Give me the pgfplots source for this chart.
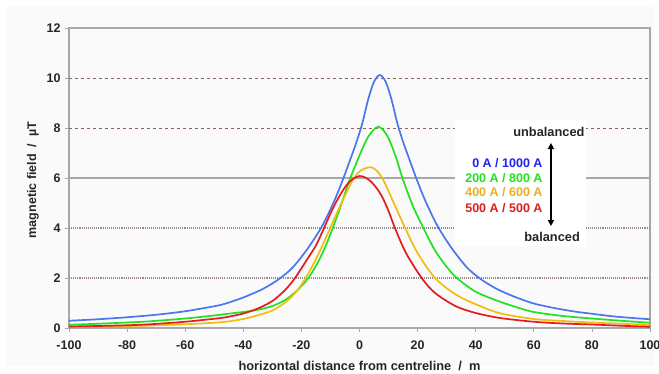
\documentclass[border=0pt]{standalone}
\usepackage{pgfplots}
\pgfplotsset{compat=1.18}
\usetikzlibrary{arrows.meta}
\usepackage{fontspec}
\setmainfont{Liberation Sans}
\definecolor{bgc}{HTML}{F9FAF9}
\definecolor{cblue}{HTML}{4A76EE}
\definecolor{cgreen}{HTML}{22E022}
\definecolor{corange}{HTML}{F0BE10}
\definecolor{cred}{HTML}{E41C1C}
\definecolor{tblue}{HTML}{2020F0}
\definecolor{tgreen}{HTML}{22E022}
\definecolor{torange}{HTML}{E8B020}
\definecolor{tred}{HTML}{D82020}
\definecolor{gridbr}{HTML}{8C6060}
\definecolor{gridgr}{HTML}{A8A8A8}
\definecolor{gridmx}{HTML}{9A8888}
\newcommand{\tf}{\fontsize{12.5}{14}\selectfont\bfseries}
\newcommand{\lf}{\fontsize{12.8}{14}\selectfont\bfseries}
\begin{document}
\begin{tikzpicture}[x=1pt,y=1pt]
\useasboundingbox (-69,-45) rectangle (590,328);
\fill[bgc] (-62,-38) rectangle (586,321);
\begin{axis}[
  at={(0,0)}, anchor=south west,
  scale only axis, width=581pt, height=300pt,
  xmin=-100, xmax=100, ymin=0, ymax=12,
  xtick={-100,-80,-60,-40,-20,0,20,40,60,80,100},
  xticklabels={-100,-80,-60,-40,-20,0,20,40,60,80,100},
  ytick={0,2,4,6,8,10,12},
  yticklabels={0,2,4,6,8,10,12},
  tick pos=left, tick align=outside,
  major tick length=4pt,
  tick style={gridgr, line width=0.8pt},
  axis line style={gridgr, line width=1.2pt},
  ticklabel style={font=\tf, text=black!85},
  xticklabel style={yshift=-5pt},
  yticklabel style={xshift=-1pt},
  xlabel={horizontal distance from centreline\ \ /\ \ m},
  ylabel={magnetic field\ \ /\ \ µT},
  xlabel style={font=\lf, text=black!85, at={(axis description cs:0.5,-0.127)}, anchor=center},
  ylabel style={font=\tf, text=black!85, at={(axis description cs:-0.062,0.493)}, anchor=center},
  clip=false,
]
% grid
\draw[gridbr, dashed, line width=1pt] (axis cs:-100,10) -- (axis cs:100,10);
\draw[gridbr, dashed, line width=1pt] (axis cs:-100,8) -- (axis cs:100,8);
\draw[gridgr, line width=1.4pt] (axis cs:-100,6) -- (axis cs:100,6);
\draw[gridmx, densely dotted, line width=1.1pt] (axis cs:-100,4) -- (axis cs:100,4);
\draw[gridmx, densely dotted, line width=1.1pt] (axis cs:-100,2) -- (axis cs:100,2);
\draw[white, fill=white] (axis cs:32.9,3.3) rectangle (axis cs:77.6,8.3);

\addplot[cblue, line width=1.7pt, smooth] coordinates {
(-100,0.29)(-90,0.35)(-80,0.43)(-70,0.53)(-60,0.67)(-50,0.87)(-46.3,0.97)(-40,1.22)(-34,1.52)(-30,1.78)(-27,2.02)(-23,2.42)(-18,3.15)(-13,4.05)(-9,5.0)(-6,5.85)(-3,6.8)(-1,7.45)(1,8.2)(3,9.15)(5,9.85)(7,10.12)(9,9.85)(11,9.15)(13,8.2)(15,7.45)(17,6.8)(20,5.85)(23,5.0)(27,4.05)(32,3.15)(37,2.42)(41,2.02)(44,1.78)(48,1.52)(54,1.22)(60,0.98)(67,0.8)(74,0.66)(80,0.57)(87,0.47)(94,0.4)(100,0.35)};
\addplot[cgreen, line width=1.7pt, smooth] coordinates {
(-100,0.13)(-90,0.17)(-80,0.22)(-72,0.27)(-60,0.38)(-50,0.5)(-46,0.56)(-40,0.64)(-35,0.73)(-30,0.88)(-25.6,1.12)(-21.5,1.5)(-17.6,2.0)(-14,2.7)(-10.8,3.52)(-7,4.7)(-3.4,5.92)(0,6.9)(3,7.65)(6.4,8.05)(9.5,7.7)(12.5,6.85)(15,5.92)(18.5,4.85)(22,4.0)(26,3.1)(30,2.45)(33.5,2.0)(40,1.45)(48.4,1.05)(55,0.8)(60,0.64)(70,0.48)(80,0.38)(90,0.29)(100,0.21)};
\addplot[corange, line width=1.7pt, smooth] coordinates {
(-100,0.05)(-90,0.06)(-80,0.08)(-72,0.1)(-60,0.15)(-50,0.21)(-46,0.25)(-40,0.36)(-35,0.51)(-30,0.7)(-25.6,1.02)(-22,1.42)(-18.8,1.95)(-15,2.75)(-11.9,3.52)(-10.2,3.97)(-6,5.05)(-2.3,5.92)(0.5,6.3)(3.9,6.43)(6.5,6.22)(8.5,5.85)(12,4.95)(15.7,4.0)(20,3.0)(26,2.0)(33,1.35)(40,0.95)(48.4,0.59)(60,0.36)(70,0.28)(80,0.22)(90,0.17)(100,0.12)};
\addplot[cred, line width=1.7pt, smooth] coordinates {
(-100,0.06)(-90,0.08)(-80,0.11)(-72,0.15)(-60,0.25)(-50,0.37)(-46,0.43)(-40,0.58)(-34.8,0.79)(-30,1.08)(-25.6,1.52)(-22.2,2.0)(-18,2.75)(-15,3.3)(-12.5,3.92)(-10,4.58)(-8,5.05)(-6,5.45)(-4,5.78)(-2,5.98)(0,6.08)(2,6.02)(4,5.85)(6,5.58)(8,5.2)(10,4.68)(12.2,4.0)(16,3.0)(21.4,2.0)(26,1.4)(33,0.88)(40,0.6)(48.4,0.4)(60,0.25)(70,0.18)(80,0.14)(90,0.09)(100,0.05)};

% annotation
\node[font=\lf, text=black!85] at (axis cs:65.2,7.85) {unbalanced};
\node[font=\lf, text=black!85] at (axis cs:66.3,3.65) {balanced};
\draw[black, line width=1.6pt, {Triangle[length=6pt,width=6pt]}-{Triangle[length=6pt,width=6pt]}] (axis cs:65.9,4.08) -- (axis cs:65.9,7.4);
\node[font=\tf, text=tblue, anchor=east] at (axis cs:64.2,6.61) {0 A / 1000 A};
\node[font=\tf, text=tgreen, anchor=east] at (axis cs:64.2,5.99) {200 A / 800 A};
\node[font=\tf, text=torange, anchor=east] at (axis cs:64.2,5.43) {400 A / 600 A};
\node[font=\tf, text=tred, anchor=east] at (axis cs:64.2,4.79) {500 A / 500 A};
\end{axis}
\end{tikzpicture}
\end{document}
